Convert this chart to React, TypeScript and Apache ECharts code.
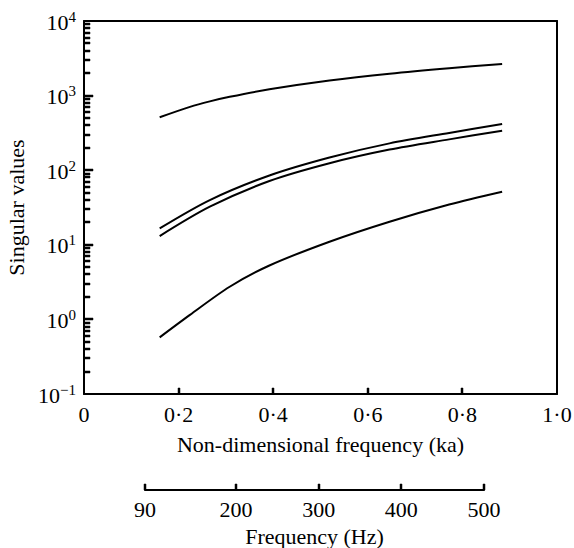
import React, { useEffect, useRef } from "react";
import * as echarts from "echarts";

// Non-dimensional frequency (ka) sample positions and singular values
const kaTop = [0.16, 0.224, 0.266, 0.308, 0.392, 0.519, 0.646, 0.772, 0.884];
const sv1 = [512, 706, 836, 962, 1213, 1589, 1963, 2328, 2655];

const kaMid = [0.16, 0.266, 0.392, 0.519, 0.646, 0.772, 0.884];
const sv2 = [16.6, 39.8, 85, 148, 229, 316, 416];
const sv3 = [13.1, 32.4, 71.6, 124, 189, 259, 339];

const kaLow = [0.16, 0.224, 0.308, 0.392, 0.519, 0.646, 0.772, 0.884];
const sv4 = [0.575, 1.15, 2.74, 5.28, 11.0, 20.4, 34.7, 51.5];

const xTicks = [0, 0.2, 0.4, 0.6, 0.8, 1.0];
const hzTicks = [90, 200, 300, 400, 500];
const decades = [-1, 0, 1, 2, 3];
const minorMultipliers = [2, 3, 4, 5, 6, 7, 8, 9];

const FONT = "'Liberation Serif', 'DejaVu Serif', serif";
const FS = 22;

function pairs(xs: number[], ys: number[]) {
  return xs.map((x, i) => [x, ys[i]]);
}

export default function App() {
  const ref = useRef<HTMLDivElement>(null);
  useEffect(() => {
    if (!ref.current) return;
    const chart = echarts.init(ref.current, null, { renderer: "svg" });

    const mkLine = (data: number[][]) => ({
      type: "line",
      xAxisIndex: 0,
      yAxisIndex: 0,
      data,
      smooth: 0.3,
      symbol: "none",
      lineStyle: { color: "#000", width: 2 },
      silent: true,
      z: 3,
    });

    // tick marks as small rects placed through the axes' scales: [x, y, width, height]
    const mainTicks: number[][] = [];
    decades.forEach((d) => {
      if (d > -1) mainTicks.push([0, Math.pow(10, d), 9, 2]);
      minorMultipliers.forEach((m) => mainTicks.push([0, m * Math.pow(10, d), 6, 2]));
    });
    xTicks
      .filter((x) => x > 0 && x < 1)
      .forEach((x) => mainTicks.push([x, 0.1, 2, 6]));
    const hzTickMarks = hzTicks.map((h) => [h, 0, 2, 6]);

    const renderTick = (params: any, api: any) => {
      const p = api.coord([api.value(0), api.value(1)]);
      const w = api.value(2);
      const h = api.value(3);
      const vertical = h > w;
      return {
        type: "rect",
        shape: {
          x: Math.round(vertical ? p[0] - w / 2 : p[0]),
          y: Math.round(vertical ? p[1] - h : p[1] - h / 2),
          width: w,
          height: h,
        },
        style: { fill: "#000", stroke: "#000", lineWidth: 0.5 },
      };
    };

    chart.setOption({
      animation: false,
      backgroundColor: "#fff",
      textStyle: { fontFamily: FONT, color: "#000" },
      grid: [
        { left: 84, top: 21, width: 473, height: 373, show: false, outerBoundsMode: "none" },
        { left: 145, top: 489, width: 339, height: 1, show: false, outerBoundsMode: "none" },
      ],
      xAxis: [
        {
          gridIndex: 0,
          type: "value",
          min: 0,
          max: 1,
          interval: 0.2,
          axisLine: { show: true, onZero: false, lineStyle: { color: "#000", width: 2 } },
          axisTick: { show: false },
          axisLabel: {
            fontFamily: FONT,
            fontSize: FS,
            color: "#000",
            margin: 9,
            formatter: (v: number) => {
              const t = xTicks.find((x) => Math.abs(x - v) < 1e-6);
              if (t === undefined) return "";
              if (t === 0) return "0";
              return t.toFixed(1).replace(".", "·");
            },
          },
          splitLine: { show: false },
          name: "Non-dimensional frequency (ka)",
          nameLocation: "middle",
          nameGap: 39,
          nameTextStyle: { fontFamily: FONT, fontSize: FS, color: "#000", verticalAlign: "top" },
        },
        {
          gridIndex: 0,
          type: "value",
          position: "top",
          min: 0,
          max: 1,
          axisLine: { show: true, onZero: false, lineStyle: { color: "#000", width: 2 } },
          axisTick: { show: false },
          axisLabel: { show: false },
          splitLine: { show: false },
        },
        {
          gridIndex: 1,
          type: "value",
          min: 90,
          max: 500,
          axisLine: { show: true, onZero: false, lineStyle: { color: "#000", width: 2 } },
          axisTick: { show: false },
          axisLabel: {
            fontFamily: FONT,
            fontSize: FS,
            color: "#000",
            margin: 8,
            customValues: hzTicks,
            showMinLabel: true,
            showMaxLabel: true,
          },
          splitLine: { show: false },
          name: "Frequency (Hz)",
          nameLocation: "middle",
          nameGap: 35,
          nameTextStyle: { fontFamily: FONT, fontSize: FS, color: "#000", verticalAlign: "top" },
        },
      ],
      yAxis: [
        {
          gridIndex: 0,
          type: "log",
          logBase: 10,
          min: 0.1,
          max: 10000,
          axisLine: { show: true, onZero: false, lineStyle: { color: "#000", width: 2 } },
          axisTick: { show: false },
          axisLabel: {
            margin: 8,
            formatter: (v: number) => {
              const e = Math.round(Math.log10(v));
              const s = e < 0 ? "\u2212" + Math.abs(e) : String(e);
              return `{b|10}{s|${s}}`;
            },
            rich: {
              b: { fontFamily: FONT, fontSize: FS, color: "#000", lineHeight: 24, verticalAlign: "bottom" },
              s: { fontFamily: FONT, fontSize: 15, color: "#000", lineHeight: 24, verticalAlign: "top", padding: [0, 0, 12, 0] },
            },
          },
          splitLine: { show: false },
          name: "Singular values",
          nameLocation: "middle",
          nameGap: 54,
          nameTextStyle: { fontFamily: FONT, fontSize: FS, color: "#000" },
        },
        {
          gridIndex: 0,
          type: "log",
          logBase: 10,
          min: 0.1,
          max: 10000,
          position: "right",
          axisLine: { show: true, onZero: false, lineStyle: { color: "#000", width: 2 } },
          axisTick: { show: false },
          axisLabel: { show: false },
          splitLine: { show: false },
        },
        { gridIndex: 1, type: "value", min: 0, max: 1, show: false },
      ],
      series: [
        mkLine(pairs(kaTop, sv1)),
        mkLine(pairs(kaMid, sv2)),
        mkLine(pairs(kaMid, sv3)),
        mkLine(pairs(kaLow, sv4)),
        {
          type: "custom",
          xAxisIndex: 0,
          yAxisIndex: 0,
          silent: true,
          clip: false,
          z: 10,
          data: mainTicks,
          renderItem: renderTick,
        },
        {
          type: "custom",
          xAxisIndex: 2,
          yAxisIndex: 2,
          silent: true,
          clip: false,
          z: 10,
          data: hzTickMarks,
          renderItem: renderTick,
        },
      ],
    });
    return () => chart.dispose();
  }, []);
  return (
    <div
      ref={ref}
      style={{ position: "absolute", left: 0, top: 0, width: 574, height: 548 }}
    />
  );
}
